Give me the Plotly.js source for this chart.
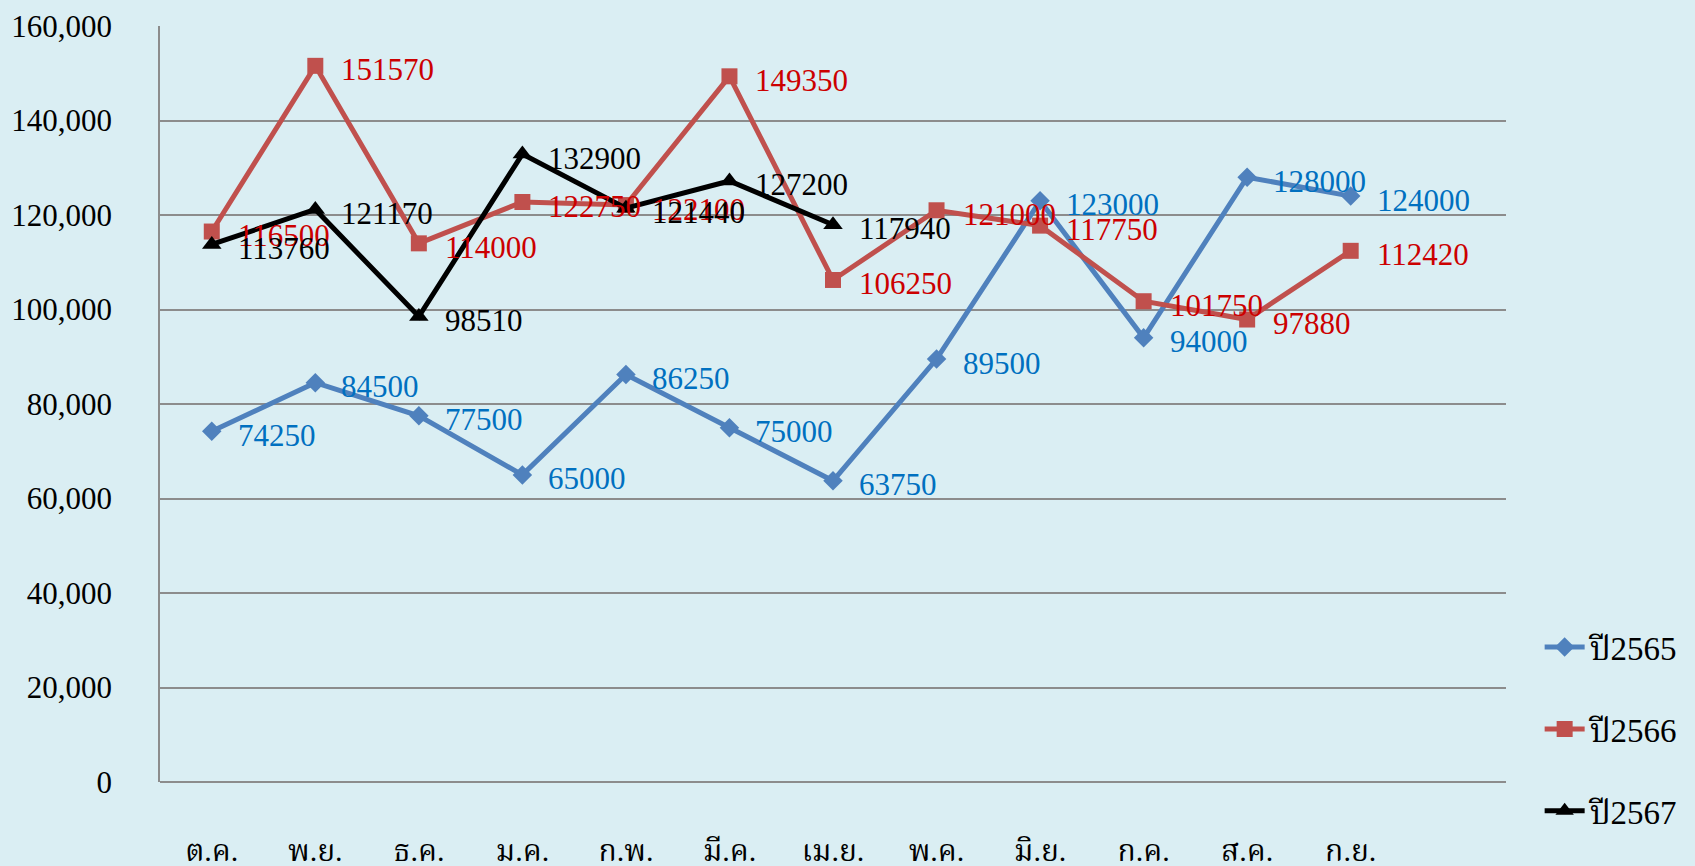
<!DOCTYPE html>
<html>
<head>
<meta charset="utf-8">
<script src="https://cdn.plot.ly/plotly-3.0.1.min.js"></script>
<style>
	html, body { margin: 0; padding: 0; background: #DAEEF3; }
	#chart { width: 1695px; height: 866px; }
</style>
</head>
<body>
<div id="chart"></div>
<script>
var months = ["ต.ค.", "พ.ย.", "ธ.ค.", "ม.ค.", "ก.พ.", "มี.ค.", "เม.ย.", "พ.ค.", "มิ.ย.", "ก.ค.", "ส.ค.", "ก.ย."];
var y2565 = [74250, 84500, 77500, 65000, 86250, 75000, 63750, 89500, 123000, 94000, 128000, 124000];
var y2566 = [116500, 151570, 114000, 122750, 122100, 149350, 106250, 121000, 117750, 101750, 97880, 112420];
var y2567 = [113760, 121170, 98510, 132900, 121440, 127200, 117940];
var seriesNames = ["ปี2565", "ปี2566", "ปี2567"];

var serif = "'Liberation Serif', 'Times New Roman', 'Noto Serif Thai', 'Noto Sans Thai', serif";

function makeTrace(vals, name, color, symbol, size, group){
	return {
		x: months.slice(0, vals.length),
		y: vals,
		name: name,
		legendgroup: group,
		type: "scatter",
		mode: "lines+markers",
		line: { color: color, width: 5 },
		marker: { color: color, symbol: symbol, size: size },
		cliponaxis: false
	};
}

// value labels, drawn as annotations so they can sit a little lower like the original
function makeLabels(vals, textColor){
	return vals.map(function(v, i){
		return {
			x: months[i], y: v, xref: "x", yref: "y",
			text: String(v),
			showarrow: false,
			xanchor: "left", yanchor: "middle",
			xshift: 24, yshift: -4,
			font: { family: serif, size: 31, color: textColor }
		};
	});
}

var data = [
	makeTrace(y2565, seriesNames[0], "#4F81BD", "diamond", 15, "a"),
	makeTrace(y2566, seriesNames[1], "#C0504D", "square", 16, "b"),
	makeTrace(y2567, seriesNames[2], "#000000", "triangle-up", 17, "c")
];

var labels = makeLabels(y2565, "#0070C0")
	.concat(makeLabels(y2566, "#CC0000"))
	.concat(makeLabels(y2567, "#000000"));

var layout = {
	width: 1695,
	height: 866,
	paper_bgcolor: "#DAEEF3",
	plot_bgcolor: "#DAEEF3",
	margin: { l: 160, r: 187, t: 26, b: 84 },
	font: { family: serif, color: "#000000" },
	annotations: labels,
	showlegend: true,
	legend: {
		x: 1.025, xanchor: "left",
		y: 0.07, yanchor: "middle",
		traceorder: "grouped",
		tracegroupgap: 36,
		font: { family: serif, size: 33, color: "#000000" },
		bgcolor: "rgba(0,0,0,0)",
		itemwidth: 40
	},
	xaxis: {
		type: "category",
		categoryorder: "array",
		categoryarray: months,
		range: [-0.5, 12.5],
		showgrid: false,
		showline: false,
		zeroline: false,
		ticks: "",
		ticklabelstandoff: 48,
		tickfont: { family: serif, size: 30, color: "#000000" }
	},
	yaxis: {
		range: [0, 160000],
		dtick: 20000,
		tickformat: ",d",
		showgrid: true,
		gridcolor: "#8C8C8C",
		gridwidth: 1.5,
		showline: true,
		linecolor: "#8C8C8C",
		linewidth: 1.5,
		zeroline: true,
		zerolinecolor: "#8C8C8C",
		zerolinewidth: 1.5,
		ticks: "",
		ticklabelstandoff: 40,
		tickfont: { family: serif, size: 31, color: "#000000" }
	}
};

Plotly.newPlot("chart", data, layout, { displayModeBar: false });
</script>
</body>
</html>
